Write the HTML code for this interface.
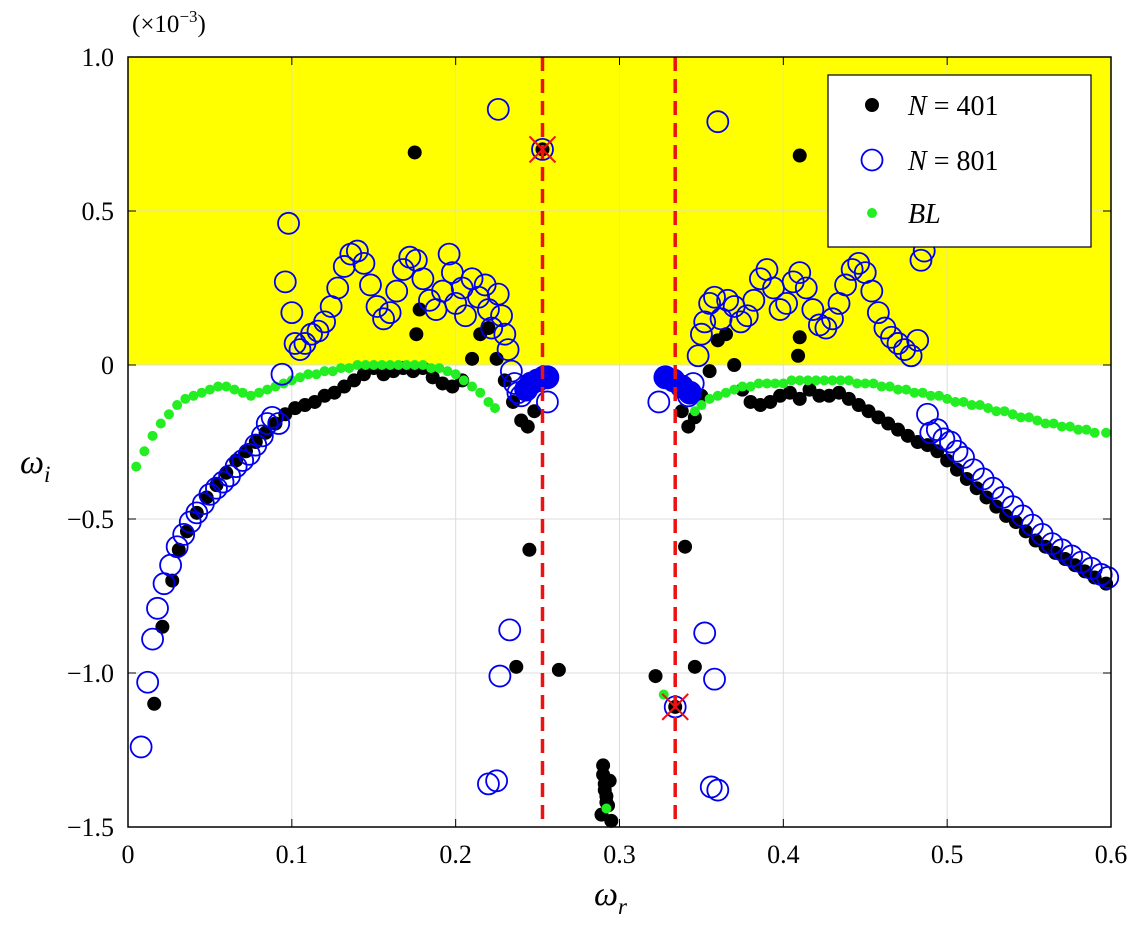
<!DOCTYPE html>
<html><head><meta charset="utf-8"><style>
body{margin:0;background:#fff}
svg{display:block;font-family:"Liberation Serif",serif}
</style></head><body>
<svg id="chart" width="1127" height="935" xmlns="http://www.w3.org/2000/svg"></svg>
<script>
const xTicks=[0,0.1,0.2,0.3,0.4,0.5,0.6];
const xTickLabels=["0","0.1","0.2","0.3","0.4","0.5","0.6"];
const yTicks=[-1.5,-1.0,-0.5,0,0.5,1.0];
const yTickLabels=["−1.5","−1.0","−0.5","0","0.5","1.0"];
const criticalLines=[0.253,0.334];
const crossMarks=[[0.253,0.70],[0.334,-1.11]];
const n401=[[0.016,-1.10],[0.021,-0.85],[0.027,-0.70],[0.031,-0.60],[0.036,-0.54],[0.042,-0.48],[0.048,-0.43],[0.054,-0.39],[0.060,-0.35],[0.066,-0.31],[0.072,-0.28],[0.078,-0.25],[0.084,-0.22],[0.090,-0.19],[0.096,-0.16],[0.102,-0.14],[0.108,-0.13],[0.114,-0.12],[0.120,-0.10],[0.126,-0.09],[0.132,-0.07],[0.138,-0.05],[0.144,-0.03],[0.150,-0.01],[0.156,-0.03],[0.162,-0.02],[0.168,-0.01],[0.174,-0.02],[0.180,-0.01],[0.186,-0.04],[0.192,-0.06],[0.198,-0.07],[0.204,-0.05],[0.210,0.02],[0.215,0.10],[0.220,0.12],[0.225,0.02],[0.230,-0.05],[0.235,-0.12],[0.240,-0.18],[0.244,-0.20],[0.248,-0.15],
[0.175,0.69],[0.176,0.10],[0.178,0.18],[0.245,-0.60],[0.237,-0.98],[0.263,-0.99],[0.253,0.70],
[0.290,-1.30],[0.290,-1.33],[0.291,-1.36],[0.291,-1.38],[0.292,-1.40],[0.292,-1.42],[0.293,-1.43],[0.289,-1.46],[0.295,-1.48],[0.294,-1.35],
[0.322,-1.01],[0.346,-0.98],[0.340,-0.59],[0.334,-1.11],[0.410,0.68],[0.409,0.03],[0.410,0.09],
[0.338,-0.15],[0.342,-0.20],[0.346,-0.17],[0.350,-0.10],[0.355,-0.02],[0.360,0.08],[0.365,0.10],[0.370,0.0],[0.375,-0.08],[0.380,-0.12],[0.386,-0.13],[0.392,-0.12],[0.398,-0.10],[0.404,-0.09],[0.410,-0.11],[0.416,-0.08],[0.422,-0.10],[0.428,-0.10],[0.434,-0.09],[0.440,-0.11],[0.446,-0.13],[0.452,-0.15],[0.458,-0.17],[0.464,-0.19],[0.470,-0.21],[0.476,-0.23],[0.482,-0.25],[0.488,-0.26],[0.494,-0.28],[0.500,-0.31],[0.506,-0.34],[0.512,-0.37],[0.518,-0.40],[0.524,-0.43],[0.530,-0.46],[0.536,-0.49],[0.542,-0.51],[0.548,-0.54],[0.554,-0.57],[0.560,-0.59],[0.566,-0.61],[0.572,-0.63],[0.578,-0.65],[0.584,-0.67],[0.590,-0.69],[0.597,-0.71]];
const n801=[[0.008,-1.24],[0.012,-1.03],[0.015,-0.89],[0.018,-0.79],[0.022,-0.71],[0.026,-0.65],[0.030,-0.59],[0.034,-0.55],[0.038,-0.51],[0.042,-0.48],[0.046,-0.45],[0.050,-0.42],[0.054,-0.40],[0.058,-0.38],[0.062,-0.36],[0.066,-0.33],[0.070,-0.31],[0.074,-0.29],[0.078,-0.26],[0.082,-0.23],[0.085,-0.19],[0.088,-0.17],[0.092,-0.19],[0.094,-0.03],[0.096,0.27],[0.098,0.46],[0.100,0.17],[0.102,0.07],[0.105,0.05],[0.108,0.07],[0.112,0.10],[0.116,0.11],[0.120,0.14],[0.124,0.19],[0.128,0.25],[0.132,0.32],[0.136,0.36],[0.140,0.37],[0.144,0.33],[0.148,0.26],[0.152,0.19],[0.156,0.15],[0.160,0.17],[0.164,0.24],[0.168,0.31],[0.172,0.35],[0.176,0.34],[0.180,0.28],[0.184,0.21],[0.188,0.18],[0.192,0.24],[0.196,0.36],[0.198,0.30],[0.200,0.20],[0.204,0.25],[0.206,0.16],[0.210,0.28],[0.214,0.22],[0.218,0.26],[0.220,0.18],[0.222,0.12],[0.226,0.23],[0.228,0.16],[0.230,0.10],[0.232,0.05],[0.234,-0.02],[0.236,-0.06],[0.238,-0.09],[0.240,-0.10],[0.226,0.83],[0.253,0.70],[0.233,-0.86],[0.227,-1.01],[0.220,-1.36],[0.225,-1.35],[0.256,-0.12],
[0.324,-0.12],[0.342,-0.10],[0.345,-0.06],[0.348,0.03],[0.350,0.10],[0.352,0.14],[0.355,0.20],[0.358,0.22],[0.362,0.15],[0.366,0.21],[0.370,0.19],[0.374,0.14],[0.378,0.16],[0.382,0.21],[0.386,0.28],[0.390,0.31],[0.394,0.25],[0.398,0.18],[0.402,0.20],[0.406,0.27],[0.410,0.30],[0.414,0.25],[0.418,0.18],[0.422,0.13],[0.426,0.12],[0.430,0.15],[0.434,0.20],[0.438,0.26],[0.442,0.31],[0.446,0.33],[0.450,0.30],[0.454,0.24],[0.458,0.17],[0.462,0.12],[0.466,0.09],[0.470,0.07],[0.474,0.05],[0.478,0.03],[0.482,0.08],[0.484,0.34],[0.486,0.37],[0.488,-0.16],[0.490,-0.22],[0.494,-0.21],[0.498,-0.24],[0.502,-0.25],[0.506,-0.28],[0.510,-0.30],[0.516,-0.34],[0.522,-0.37],[0.528,-0.40],[0.534,-0.43],[0.540,-0.46],[0.546,-0.49],[0.552,-0.52],[0.558,-0.55],[0.564,-0.58],[0.570,-0.60],[0.576,-0.62],[0.582,-0.64],[0.588,-0.66],[0.594,-0.68],[0.598,-0.69],[0.360,0.79],[0.352,-0.87],[0.358,-1.02],[0.356,-1.37],[0.360,-1.38],[0.334,-1.11]];
const n801Clustered=[[0.243,-0.08],[0.246,-0.06],[0.250,-0.05],[0.254,-0.04],[0.256,-0.04],[0.328,-0.04],[0.333,-0.05],[0.338,-0.07],[0.343,-0.09]];
const bl=[[0.005,-0.33],[0.01,-0.28],[0.015,-0.23],[0.02,-0.19],[0.025,-0.16],[0.03,-0.13],[0.035,-0.11],[0.04,-0.10],[0.045,-0.09],[0.05,-0.08],[0.055,-0.07],[0.06,-0.07],[0.065,-0.08],[0.07,-0.09],[0.075,-0.10],[0.08,-0.09],[0.085,-0.08],[0.09,-0.07],[0.095,-0.06],[0.1,-0.05],[0.105,-0.04],[0.11,-0.03],[0.115,-0.03],[0.12,-0.02],[0.125,-0.02],[0.13,-0.01],[0.135,-0.01],[0.14,0],[0.145,0],[0.15,0],[0.155,0],[0.16,0],[0.165,0],[0.17,0],[0.175,0],[0.18,0],[0.185,-0.01],[0.19,-0.01],[0.195,-0.02],[0.2,-0.03],[0.205,-0.05],[0.21,-0.07],[0.215,-0.09],[0.22,-0.12],[0.224,-0.14],
[0.346,-0.15],[0.35,-0.13],[0.355,-0.11],[0.36,-0.10],[0.365,-0.09],[0.37,-0.08],[0.375,-0.07],[0.38,-0.07],[0.385,-0.06],[0.39,-0.06],[0.395,-0.06],[0.4,-0.06],[0.405,-0.05],[0.41,-0.05],[0.415,-0.05],[0.42,-0.05],[0.425,-0.05],[0.43,-0.05],[0.435,-0.05],[0.44,-0.05],[0.445,-0.06],[0.45,-0.06],[0.455,-0.06],[0.46,-0.07],[0.465,-0.07],[0.47,-0.08],[0.475,-0.08],[0.48,-0.09],[0.485,-0.09],[0.49,-0.10],[0.495,-0.10],[0.5,-0.11],[0.505,-0.12],[0.51,-0.12],[0.515,-0.13],[0.52,-0.13],[0.525,-0.14],[0.53,-0.15],[0.535,-0.15],[0.54,-0.16],[0.545,-0.17],[0.55,-0.17],[0.555,-0.18],[0.56,-0.19],[0.565,-0.19],[0.57,-0.20],[0.575,-0.20],[0.58,-0.21],[0.585,-0.21],[0.59,-0.22],[0.597,-0.22],[0.327,-1.07],[0.292,-1.44]];

const L=128,R=1111,T=57,B=827,X0=0,X1=0.6,Y0=-1.5,Y1=1.0;
const sx=v=>L+(v-X0)/(X1-X0)*(R-L);
const sy=v=>B-(v-Y0)/(Y1-Y0)*(B-T);
const NS="http://www.w3.org/2000/svg";
const svg=document.getElementById('chart');
function el(tag,attrs,parent){const e=document.createElementNS(NS,tag);for(const k in attrs)e.setAttribute(k,attrs[k]);(parent||svg).appendChild(e);return e;}

let e;
e=el('rect',{x:L,y:sy(1.0),width:R-L,height:sy(0)-sy(1.0),fill:'#ffff00'});


const grid=el('g',{});


xTicks.forEach(v=>{el('line',{x1:sx(v),x2:sx(v),y1:T,y2:B,stroke:'#dcdcdc','stroke-width':1},grid);});
yTicks.forEach(v=>{el('line',{x1:L,x2:R,y1:sy(v),y2:sy(v),stroke:'#dcdcdc','stroke-width':1},grid);});

const ser1=el('g',{});


n401.forEach(p=>{const c=el('circle',{cx:sx(p[0]),cy:sy(p[1]),r:7,fill:'#000'},ser1);

});
const ser3=el('g',{});


bl.forEach(p=>{const c=el('circle',{cx:sx(p[0]),cy:sy(p[1]),r:5,fill:'#22ee22'},ser3);

});
const ser2=el('g',{});


n801.forEach(p=>{const c=el('circle',{cx:sx(p[0]),cy:sy(p[1]),r:10.5,fill:'none',stroke:'#0000ee','stroke-width':1.8},ser2);

});
n801Clustered.forEach(p=>{const c=el('circle',{cx:sx(p[0]),cy:sy(p[1]),r:11,fill:'#0000ee',stroke:'#0000ee','stroke-width':1.8},ser2);

});

criticalLines.forEach(v=>{const l=el('line',{x1:sx(v),x2:sx(v),y1:T,y2:B,stroke:'#ee1111','stroke-width':3.5,'stroke-dasharray':'14 8'});

});
crossMarks.forEach(p=>{const g=el('g',{stroke:'#ee1111','stroke-width':2});


const x=sx(p[0]),y=sy(p[1]);
el('line',{x1:x-13,y1:y-13,x2:x+13,y2:y+13},g);el('line',{x1:x-13,y1:y+13,x2:x+13,y2:y-13},g);});

e=el('rect',{x:L,y:T,width:R-L,height:B-T,fill:'none',stroke:'#000','stroke-width':1.5});


const axes=el('g',{'font-size':26,fill:'#000'});


xTicks.forEach((v,i)=>{el('line',{x1:sx(v),x2:sx(v),y1:B,y2:B-8,stroke:'#000'},axes);el('line',{x1:sx(v),x2:sx(v),y1:T,y2:T+8,stroke:'#000'},axes);
const t=el('text',{x:sx(v),y:B+36,'text-anchor':'middle'},axes);t.textContent=xTickLabels[i];

});
yTicks.forEach((v,i)=>{el('line',{x1:L,x2:L+8,y1:sy(v),y2:sy(v),stroke:'#000'},axes);el('line',{x1:R,x2:R-8,y1:sy(v),y2:sy(v),stroke:'#000'},axes);
const t=el('text',{x:L-14,y:sy(v)+9,'text-anchor':'end'},axes);t.textContent=yTickLabels[i];

});
</script>
<svg style="position:absolute;left:0;top:0" width="1127" height="935" font-family="Liberation Serif, serif">
<text x="132" y="32" font-size="25">(×10<tspan dy="-10" font-size="17">−3</tspan><tspan dy="10">)</tspan></text>
<text x="20" y="473" font-size="34" font-style="italic">ω<tspan dy="9" font-size="23">i</tspan></text>
<text x="594" y="905" font-size="34" font-style="italic">ω<tspan dy="9" font-size="23">r</tspan></text>
<g>
<rect x="828" y="75" width="263" height="172" fill="#fff" stroke="#000" stroke-width="1.2"/>
<circle cx="872" cy="105" r="7" fill="#000"/>
<text x="908" y="115" font-size="28"><tspan font-style="italic">N</tspan> = 401</text>
<circle cx="872" cy="160" r="10.5" fill="none" stroke="#0000ee" stroke-width="1.8"/>
<text x="908" y="170" font-size="28"><tspan font-style="italic">N</tspan> = 801</text>
<circle cx="872" cy="213" r="5" fill="#22ee22"/>
<text x="908" y="223" font-size="28" font-style="italic">BL</text>
</g>
</svg>
</body></html>
